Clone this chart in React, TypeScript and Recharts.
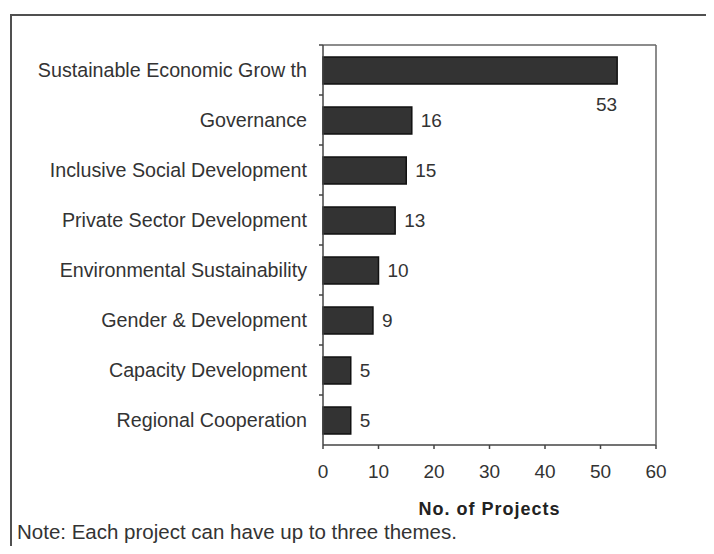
import React from 'react';
import {
  BarChart,
  Bar,
  XAxis,
  YAxis,
  LabelList,
} from 'recharts';

const themes = [
  'Sustainable Economic Grow th',
  'Governance',
  'Inclusive Social Development',
  'Private Sector Development',
  'Environmental Sustainability',
  'Gender & Development',
  'Capacity Development',
  'Regional Cooperation',
];
const projectCounts = [53, 16, 15, 13, 10, 9, 5, 5];
const xTicks = [0, 10, 20, 30, 40, 50, 60];

const FONT = '"Liberation Sans", Arial, sans-serif';
const TEXT = '#333';

const CHART_W = 698;
const CHART_H = 538;
const MARGIN = { top: 36, right: 49, bottom: 31, left: 0 };
const Y_AXIS_W = 315;
const X_AXIS_H = 70;
const plotHeight = CHART_H - MARGIN.top - 1 - MARGIN.bottom - X_AXIS_H;
const band = plotHeight / themes.length;

const chartData = themes.map((theme, i) => ({ theme, count: projectCounts[i] }));

// category label + small tick at the upper band boundary
function ThemeTick(props: any) {
  const { x, y, payload } = props;
  return (
    <g>
      <text
        x={x}
        y={y}
        textAnchor="end"
        dominantBaseline="central"
        fontFamily={FONT}
        fontSize={19.7}
        fill={TEXT}
      >
        {payload.value}
      </text>
      <line x1={x + 12} x2={x + 16} y1={y - band / 2} y2={y - band / 2} stroke="#444" strokeWidth={1.5} />
    </g>
  );
}

function CountLabel(props: any) {
  const { x, y, width, height, value, index } = props;
  if (index === 0) {
    // the longest bar gets its value underneath the end
    return (
      <text x={x + width} y={y + height + 27} textAnchor="end" fontFamily={FONT} fontSize={19} fill={TEXT}>
        {value}
      </text>
    );
  }
  return (
    <text
      x={x + width + 9}
      y={y + height / 2}
      dominantBaseline="central"
      fontFamily={FONT}
      fontSize={19}
      fill={TEXT}
    >
      {value}
    </text>
  );
}

export default function App() {
  return (
    <div style={{ position: 'relative', width: CHART_W, height: CHART_H, overflow: 'hidden', background: '#fff' }}>
      <div
        style={{
          position: 'absolute',
          left: 2,
          top: 6,
          width: 760,
          height: 620,
          border: '2px solid #505050',
          boxSizing: 'border-box',
        }}
      />
      <div style={{ position: 'absolute', left: 0, top: 0 }}>
        <BarChart
          width={CHART_W}
          height={CHART_H}
          data={chartData}
          layout="vertical"
          margin={MARGIN}
          barSize={27}
        >
          <XAxis
            type="number"
            domain={[0, 60]}
            ticks={xTicks}
            interval={0}
            height={X_AXIS_H}
            tickSize={4}
            tickMargin={16}
            axisLine={{ stroke: '#444', strokeWidth: 1.5 }}
            tickLine={{ stroke: '#444', strokeWidth: 1.5 }}
            tick={{ fontFamily: FONT, fontSize: 19, fill: TEXT }}
            label={{
              value: 'No. of Projects',
              position: 'insideBottom',
              offset: 0,
              fontFamily: FONT,
              fontSize: 18,
              fontWeight: 'bold',
              letterSpacing: 1,
              fill: '#222',
            }}
          />
          {/* top and right edges of the plot box */}
          <XAxis
            xAxisId="top"
            orientation="top"
            type="number"
            domain={[0, 60]}
            ticks={xTicks}
            height={1}
            tick={false}
            tickLine={false}
            axisLine={{ stroke: '#666', strokeWidth: 1.5 }}
          />
          <YAxis
            type="category"
            dataKey="theme"
            width={Y_AXIS_W}
            interval={0}
            tickSize={0}
            tickMargin={16}
            tickLine={false}
            axisLine={{ stroke: '#444', strokeWidth: 1.5 }}
            tick={<ThemeTick />}
          />
          <YAxis
            yAxisId="right"
            orientation="right"
            type="category"
            dataKey="theme"
            width={1}
            tick={false}
            tickLine={false}
            axisLine={{ stroke: '#666', strokeWidth: 1.5 }}
          />
          <Bar dataKey="count" fill="#333" stroke="#111" strokeWidth={1.5} isAnimationActive={false}>
            <LabelList dataKey="count" content={<CountLabel />} />
          </Bar>
          <Bar dataKey="count" xAxisId="top" yAxisId="right" fill="none" stroke="none" isAnimationActive={false} legendType="none" />
        </BarChart>
      </div>
      <div
        style={{
          position: 'absolute',
          left: 9,
          top: 513,
          fontFamily: FONT,
          fontSize: 20.5,
          lineHeight: '22px',
          color: TEXT,
          whiteSpace: 'nowrap',
        }}
      >
        Note: Each project can have up to three themes.
      </div>
    </div>
  );
}
